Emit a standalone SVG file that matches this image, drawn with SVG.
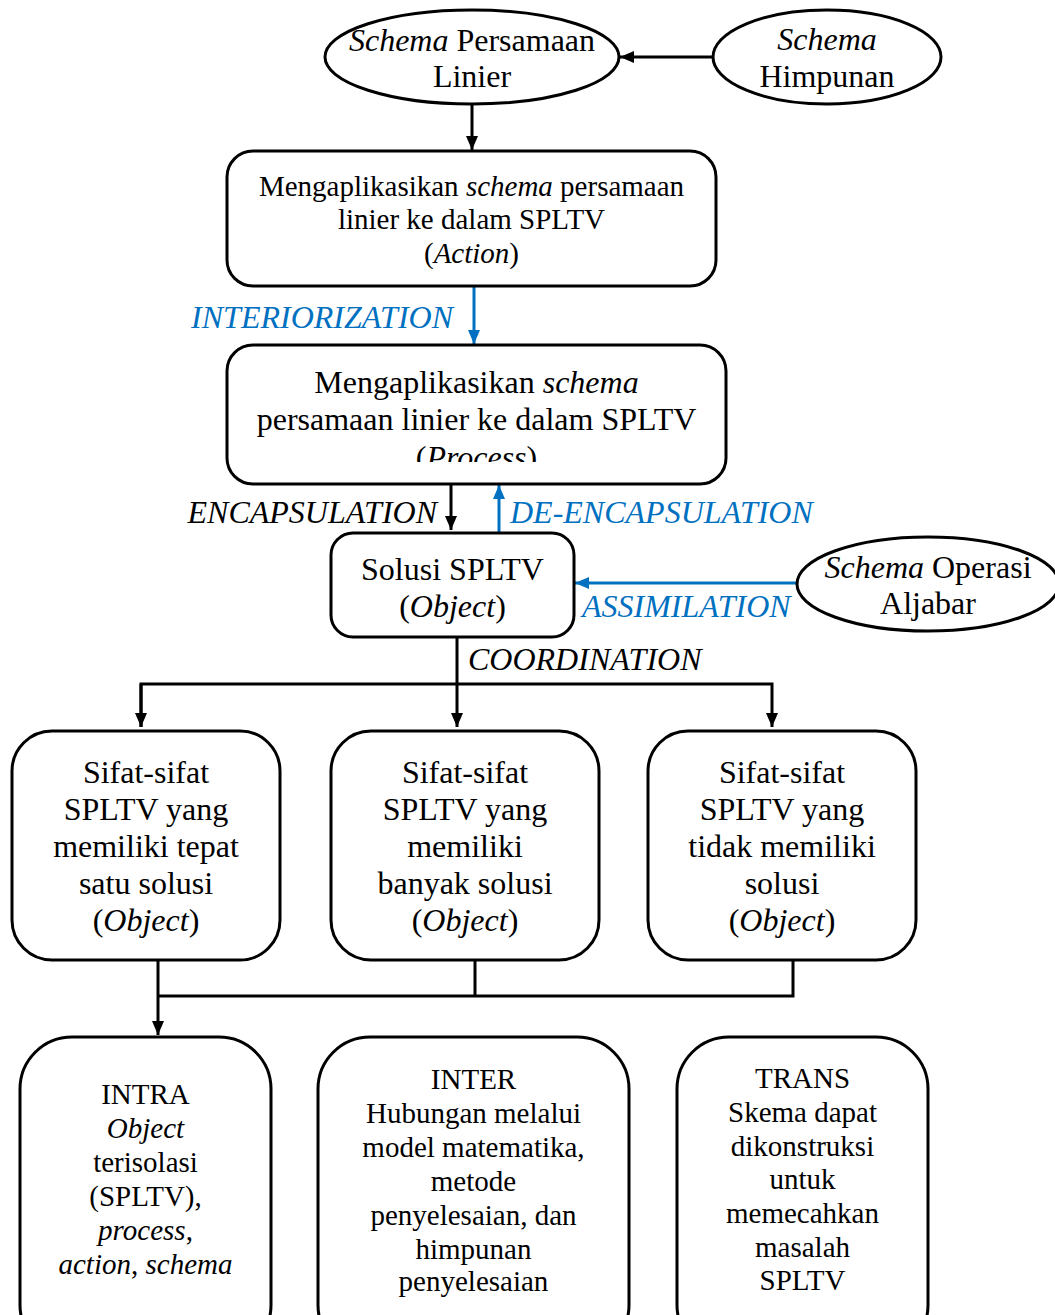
<svg xmlns="http://www.w3.org/2000/svg" width="1055" height="1315" viewBox="0 0 1055 1315">
<style>
.n{fill:#fff;stroke:#000;stroke-width:3}
.t{font-family:"Liberation Serif","Times New Roman",serif;fill:#000;text-anchor:middle}
.i{font-style:italic}
.c{stroke:#000;stroke-width:3;fill:none}
.b{stroke:#0070C0;stroke-width:3;fill:none}
.lb{font-family:"Liberation Serif","Times New Roman",serif;font-style:italic;font-size:32px;fill:#0070C0}
.lk{font-family:"Liberation Serif","Times New Roman",serif;font-style:italic;font-size:32px;fill:#000}
</style>
<defs>
<marker id="ak" markerUnits="userSpaceOnUse" markerWidth="14" markerHeight="14" viewBox="0 0 14 14" refX="14" refY="7" orient="auto"><path d="M0,1 L14,7 L0,13 Z" fill="#000"/></marker>
<marker id="ab" markerUnits="userSpaceOnUse" markerWidth="14" markerHeight="14" viewBox="0 0 14 14" refX="14" refY="7" orient="auto"><path d="M0,1 L14,7 L0,13 Z" fill="#0070C0"/></marker>
<clipPath id="clipP"><rect x="227" y="345" width="500" height="117"/></clipPath>
</defs>
<rect width="1055" height="1315" fill="#fff"/>

<g id="connectors">
<line class="c" x1="713" y1="57" x2="620" y2="57" marker-end="url(#ak)"/>
<line class="c" x1="472" y1="104" x2="472" y2="150" marker-end="url(#ak)"/>
<line class="b" x1="474" y1="286" x2="474" y2="344" marker-end="url(#ab)"/>
<line class="c" x1="451" y1="484" x2="451" y2="530" marker-end="url(#ak)"/>
<line class="b" x1="499" y1="532" x2="499" y2="485" marker-end="url(#ab)"/>
<line class="b" x1="797" y1="583" x2="575" y2="583" marker-end="url(#ab)"/>
<line class="c" x1="457" y1="637" x2="457" y2="727" marker-end="url(#ak)"/>
<polyline class="c" points="141,727 141,684 772,684 772,727" marker-end="url(#ak)"/>
<line class="c" x1="141" y1="684" x2="141" y2="727" marker-end="url(#ak)"/>
<line class="c" x1="158" y1="960" x2="158" y2="1035" marker-end="url(#ak)"/>
<polyline class="c" points="158,996 793,996 793,960"/>
<line class="c" x1="475" y1="960" x2="475" y2="996"/>
<text class="lb" x="453" y="328" text-anchor="end">INTERIORIZATION</text>
<text class="lk" x="437" y="523" text-anchor="end">ENCAPSULATION</text>
<text class="lb" x="510" y="523">DE-ENCAPSULATION</text>
<text class="lb" x="582" y="617">ASSIMILATION</text>
<text class="lk" x="468" y="670">COORDINATION</text>
</g>

<g id="schema-persamaan-linier">
<ellipse class="n" cx="472" cy="57" rx="147" ry="47"/>
<text class="t" font-size="32" x="472" y="51"><tspan class="i">Schema</tspan> Persamaan</text>
<text class="t" font-size="32" x="472" y="87">Linier</text>
</g>

<g id="schema-himpunan">
<ellipse class="n" cx="827" cy="57" rx="114" ry="47"/>
<text class="t i" font-size="32" x="827" y="50">Schema</text>
<text class="t" font-size="32" x="827" y="87">Himpunan</text>
</g>

<g id="action">
<rect class="n" x="227" y="151" width="489" height="135" rx="26"/>
<text class="t" font-size="29" x="471.5" y="196">Mengaplikasikan <tspan class="i">schema</tspan> persamaan</text>
<text class="t" font-size="29" x="471.5" y="229">linier ke dalam SPLTV</text>
<text class="t" font-size="29" x="471.5" y="263">(<tspan class="i">Action</tspan>)</text>
</g>

<g id="process">
<rect class="n" x="227" y="345" width="499" height="139" rx="26"/>
<text class="t" font-size="32" x="476.5" y="393">Mengaplikasikan <tspan class="i">schema</tspan></text>
<text class="t" font-size="32" x="476.5" y="430">persamaan linier ke dalam SPLTV</text>
<text class="t" font-size="32" x="476.5" y="468" clip-path="url(#clipP)">(<tspan class="i">Process</tspan>)</text>
</g>

<g id="solusi">
<rect class="n" x="331" y="533" width="243" height="104" rx="22"/>
<text class="t" font-size="32" x="452.5" y="580">Solusi SPLTV</text>
<text class="t" font-size="32" x="452.5" y="617">(<tspan class="i">Object</tspan>)</text>
</g>

<g id="schema-operasi-aljabar">
<ellipse class="n" cx="928" cy="584" rx="131" ry="47"/>
<text class="t" font-size="32" x="928" y="578"><tspan class="i">Schema</tspan> Operasi</text>
<text class="t" font-size="32" x="928" y="614">Aljabar</text>
</g>

<g id="tepat-satu">
<rect class="n" x="12" y="731" width="268" height="229" rx="40"/>
<text class="t" font-size="32" x="146" y="783">Sifat-sifat</text>
<text class="t" font-size="32" x="146" y="820">SPLTV yang</text>
<text class="t" font-size="32" x="146" y="857">memiliki tepat</text>
<text class="t" font-size="32" x="146" y="894">satu solusi</text>
<text class="t" font-size="32" x="146" y="931">(<tspan class="i">Object</tspan>)</text>
</g>

<g id="banyak">
<rect class="n" x="331" y="731" width="268" height="229" rx="40"/>
<text class="t" font-size="32" x="465" y="783">Sifat-sifat</text>
<text class="t" font-size="32" x="465" y="820">SPLTV yang</text>
<text class="t" font-size="32" x="465" y="857">memiliki</text>
<text class="t" font-size="32" x="465" y="894">banyak solusi</text>
<text class="t" font-size="32" x="465" y="931">(<tspan class="i">Object</tspan>)</text>
</g>

<g id="tidak">
<rect class="n" x="648" y="731" width="268" height="229" rx="40"/>
<text class="t" font-size="32" x="782" y="783">Sifat-sifat</text>
<text class="t" font-size="32" x="782" y="820">SPLTV yang</text>
<text class="t" font-size="32" x="782" y="857">tidak memiliki</text>
<text class="t" font-size="32" x="782" y="894">solusi</text>
<text class="t" font-size="32" x="782" y="931">(<tspan class="i">Object</tspan>)</text>
</g>

<g id="intra">
<rect class="n" x="20" y="1037" width="251" height="320" rx="52"/>
<text class="t" font-size="29" x="145.5" y="1104">INTRA</text>
<text class="t i" font-size="29" x="145.5" y="1138">Object</text>
<text class="t" font-size="29" x="145.5" y="1172">terisolasi</text>
<text class="t" font-size="29" x="145.5" y="1206">(SPLTV),</text>
<text class="t" font-size="29" x="145.5" y="1240"><tspan class="i">process</tspan>,</text>
<text class="t" font-size="29" x="145.5" y="1274"><tspan class="i">action</tspan>, <tspan class="i">schema</tspan></text>
</g>

<g id="inter">
<rect class="n" x="318" y="1037" width="311" height="320" rx="52"/>
<text class="t" font-size="29" x="473.5" y="1089">INTER</text>
<text class="t" font-size="29" x="473.5" y="1123">Hubungan melalui</text>
<text class="t" font-size="29" x="473.5" y="1157">model matematika,</text>
<text class="t" font-size="29" x="473.5" y="1191">metode</text>
<text class="t" font-size="29" x="473.5" y="1225">penyelesaian, dan</text>
<text class="t" font-size="29" x="473.5" y="1259">himpunan</text>
<text class="t" font-size="29" x="473.5" y="1291">penyelesaian</text>
</g>

<g id="trans">
<rect class="n" x="677" y="1037" width="251" height="320" rx="52"/>
<text class="t" font-size="29" x="802.5" y="1088">TRANS</text>
<text class="t" font-size="29" x="802.5" y="1122">Skema dapat</text>
<text class="t" font-size="29" x="802.5" y="1156">dikonstruksi</text>
<text class="t" font-size="29" x="802.5" y="1189">untuk</text>
<text class="t" font-size="29" x="802.5" y="1223">memecahkan</text>
<text class="t" font-size="29" x="802.5" y="1257">masalah</text>
<text class="t" font-size="29" x="802.5" y="1290">SPLTV</text>
</g>
</svg>
